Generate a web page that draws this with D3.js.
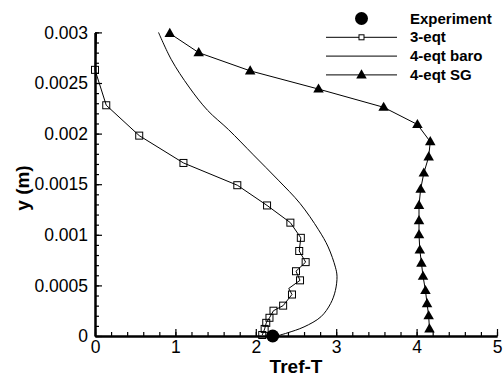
<!DOCTYPE html>
<html>
<head>
<meta charset="utf-8">
<script src="https://cdn.jsdelivr.net/npm/d3@7"></script>
<style>
  body { margin: 0; background: #fff; }
  svg { display: block; font-family: Arial, "Liberation Sans", Helvetica, sans-serif; }
</style>
</head>
<body>
<svg id="mainsvg" width="504" height="381"></svg>
<script>
// data
const expX = [2.21];
const expY = [0];

const eqt3X = [0.02, 0.00, 0.14, 0.55, 1.10, 1.77, 2.14, 2.43, 2.56, 2.54, 2.62, 2.50, 2.55, 2.41, 2.45, 2.34, 2.22, 2.17, 2.13, 2.11, 2.08];
const eqt3Y = [0.0030, 0.00263, 0.00228, 0.00198, 0.00171, 0.00149, 0.00129, 0.00112, 0.00097, 0.00084, 0.00073, 0.00064, 0.00055, 0.00047, 0.00041, 0.00030, 0.00025, 0.00018, 0.00013, 0.00007, 0.00001];
const eqt3Mark = [0, 1, 1, 1, 1, 1, 1, 1, 1, 1, 1, 1, 1, 0, 1, 1, 1, 1, 1, 1, 1];

const baroX = [0.79, 0.95, 1.17, 1.40, 1.66, 1.97, 2.28, 2.55, 2.78, 2.90, 2.99, 3.01, 2.99, 2.93, 2.81, 2.60, 2.39, 2.26];
const baroY = [0.0030, 0.00273, 0.00246, 0.00223, 0.00204, 0.00179, 0.00154, 0.00131, 0.00105, 0.00088, 0.00068, 0.00059, 0.00045, 0.00032, 0.00019, 0.00009, 0.00003, 0];

const sgX = [0.93, 1.29, 1.93, 2.78, 3.59, 4.01, 4.17, 4.15, 4.09, 4.05, 4.03, 4.03, 4.03, 4.04, 4.06, 4.08, 4.11, 4.13, 4.15, 4.16];
const sgY = [0.00299, 0.0028, 0.00262, 0.00244, 0.00226, 0.00209, 0.00192, 0.00177, 0.00161, 0.00145, 0.00129, 0.00114, 0.00100, 0.00085, 0.00072, 0.00059, 0.00045, 0.00032, 0.0002, 0.00007];

const xTicks = [0, 1, 2, 3, 4, 5];
const yTicks = [0, 0.0005, 0.001, 0.0015, 0.002, 0.0025, 0.003];
const yTickLabels = ['0', '0.0005', '0.001', '0.0015', '0.002', '0.0025', '0.003'];
const legendNames = ['Experiment', '3-eqt', '4-eqt baro', '4-eqt SG'];

const svg = d3.select('#mainsvg');
const margin = { top: 32.4, right: 7, bottom: 45, left: 95 };
const width = +svg.attr('width');
const height = +svg.attr('height');

const xScale = d3.scaleLinear().domain([0, 5]).range([margin.left, width - margin.right]);
const yScale = d3.scaleLinear().domain([0, 0.003]).range([height - margin.bottom, margin.top]);

const zip = (xs, ys) => xs.map((x, i) => ({ x: x, y: ys[i] }));

// axes - ticks point inward
const xMinor = d3.axisBottom(xScale).tickValues(d3.range(0, 5.001, 0.2)).tickSize(-4).tickSizeOuter(0).tickFormat('');
const yMinor = d3.axisLeft(yScale).tickValues(d3.range(0, 0.00301, 0.0001)).tickSize(-4).tickSizeOuter(0).tickFormat('');
const xAxis = d3.axisBottom(xScale).tickValues(xTicks).tickSize(-7).tickSizeOuter(0).tickPadding(5).tickFormat(d => d);
const yAxis = d3.axisLeft(yScale).tickValues(yTicks).tickSize(-7).tickSizeOuter(0).tickPadding(7)
    .tickFormat((d, i) => yTickLabels[i]);

[xMinor, xAxis].forEach(ax => {
    svg.append('g').attr('transform', `translate(0, ${yScale(0)})`).call(ax);
});
[yMinor, yAxis].forEach(ax => {
    svg.append('g').attr('transform', `translate(${xScale(0)}, 0)`).call(ax);
});
svg.selectAll('.domain').attr('stroke', '#000').attr('stroke-width', 2);
svg.selectAll('.tick line').attr('stroke', '#000').attr('stroke-width', 1.2);
svg.selectAll('.tick text').attr('font-size', '17.5px').attr('fill', '#000')
    .attr('font-family', 'Arial, "Liberation Sans", sans-serif');

// axis titles
svg.append('text')
    .attr('x', xScale(2.5)).attr('y', 373)
    .attr('text-anchor', 'middle')
    .attr('font-size', '19px').attr('font-weight', 'bold')
    .text('Tref-T');
svg.append('text')
    .attr('transform', `translate(29, 188) rotate(-90)`)
    .attr('text-anchor', 'middle')
    .attr('font-size', '19px').attr('font-weight', 'bold')
    .text('y (m)');

const line = d3.line().x(d => xScale(d.x)).y(d => yScale(d.y));

// 4-eqt baro (smooth)
svg.append('path').datum(zip(baroX, baroY))
    .attr('fill', 'none').attr('stroke', '#000').attr('stroke-width', 1)
    .attr('d', line.curve(d3.curveCatmullRom.alpha(0.5)));
line.curve(d3.curveLinear);

// 3-eqt
const eqt3 = zip(eqt3X, eqt3Y);
svg.append('path').datum(eqt3)
    .attr('fill', 'none').attr('stroke', '#000').attr('stroke-width', 1)
    .attr('d', line);
svg.selectAll('.sq').data(eqt3.filter((d, i) => eqt3Mark[i]))
    .join('rect').attr('class', 'sq')
    .attr('x', d => xScale(d.x) - 3.5).attr('y', d => yScale(d.y) - 3.5)
    .attr('width', 7).attr('height', 7)
    .attr('fill', 'none').attr('stroke', '#000').attr('stroke-width', 1);

// 4-eqt SG
const sg = zip(sgX, sgY);
svg.append('path').datum(sg)
    .attr('fill', 'none').attr('stroke', '#000').attr('stroke-width', 1)
    .attr('d', line);
const tri = d3.symbol().type(d3.symbolTriangle).size(48);
svg.selectAll('.tri').data(sg)
    .join('path').attr('class', 'tri')
    .attr('transform', d => `translate(${xScale(d.x)}, ${yScale(d.y) + 0.5})`)
    .attr('d', tri).attr('fill', '#000');

// experiment
svg.selectAll('.exp').data(zip(expX, expY))
    .join('circle').attr('class', 'exp')
    .attr('cx', d => xScale(d.x)).attr('cy', d => yScale(d.y))
    .attr('r', 6.5).attr('fill', '#000');

// legend
const legend = svg.append('g');
const rowY = i => 18.5 + i * 18.8;
legendNames.forEach((name, i) => {
    const y = rowY(i);
    if (i === 0) {
        legend.append('circle').attr('cx', 361.5).attr('cy', y).attr('r', 6.5).attr('fill', '#000');
    } else {
        legend.append('line').attr('x1', 326).attr('x2', 397).attr('y1', y).attr('y2', y)
            .attr('stroke', '#000').attr('stroke-width', 1);
    }
    if (i === 1) {
        legend.append('rect').attr('x', 361.5 - 2.5).attr('y', y - 2.5).attr('width', 5).attr('height', 5)
            .attr('fill', '#fff').attr('stroke', '#000').attr('stroke-width', 1);
    }
    if (i === 3) {
        legend.append('path').attr('transform', `translate(361.5, ${y + 0.5})`).attr('d', tri).attr('fill', '#000');
    }
    legend.append('text').attr('x', 410).attr('y', y + 5)
        .attr('font-size', '15px').attr('font-weight', 'bold')
        .text(name);
});
</script>
</body>
</html>
